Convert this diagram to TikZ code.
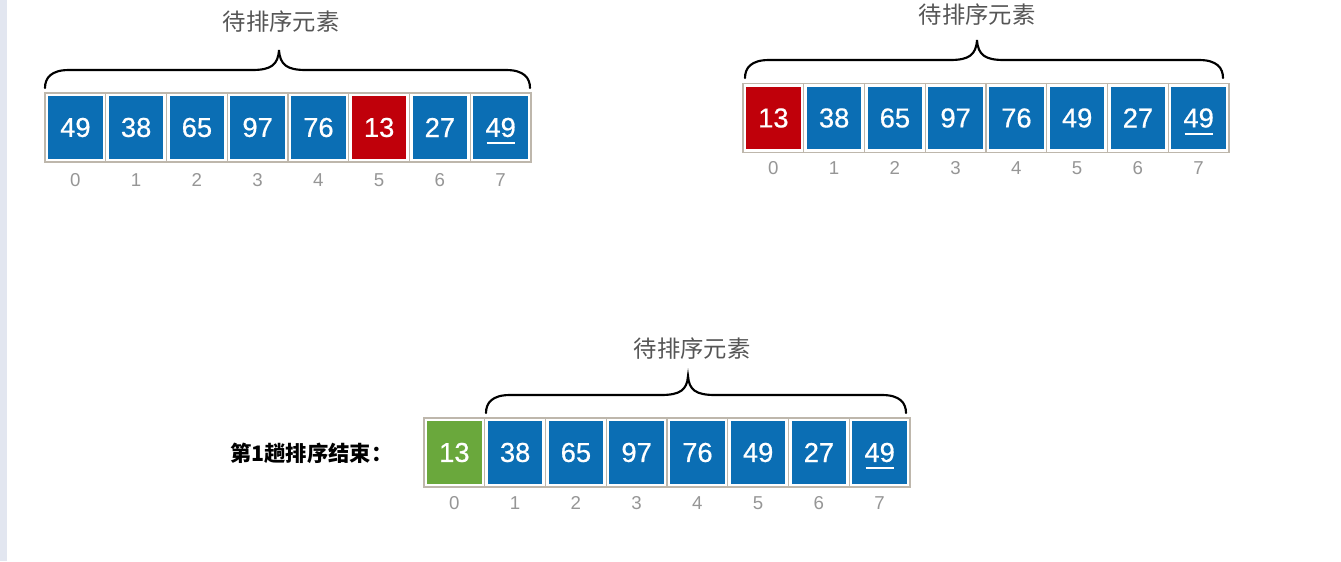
\documentclass[tikz,border=0pt]{standalone}
\usepackage{fontspec}
\setmainfont{Liberation Sans}
\newfontfamily\numfont[FakeBold=0.6]{Liberation Sans}
\newfontfamily\cjk{Noto Sans CJK SC}
\definecolor{cellblue}{RGB}{11,110,180}
\definecolor{cellred}{RGB}{192,0,10}
\definecolor{cellgreen}{RGB}{106,168,60}
\definecolor{framec}{RGB}{190,183,172}
\definecolor{idxc}{RGB}{150,150,150}
\definecolor{ttlc}{RGB}{85,85,85}
\definecolor{stripc}{RGB}{226,230,240}
\newcommand\drawsortbrace[6]{% x0, x1, xtip, yend, yh, ytip
  \draw[bracestyle] (#1,#4) .. controls (#1,#4-10) and (#1+6,#5) .. (#1+24,#5)
    -- (#3-27,#5) .. controls (#3-8,#5) and (#3-1,#5-5) .. (#3,#6)
    .. controls (#3+1,#5-5) and (#3+8,#5) .. (#3+27,#5)
    -- (#2-24,#5) .. controls (#2-6,#5) and (#2,#4-10) .. (#2,#4);}
\begin{document}
\begin{tikzpicture}[x=0.75pt,y=-0.75pt,
  cell/.style={draw=framec, line width=0.9pt, minimum width=45.56pt, minimum height=51.75pt,
    inner sep=0pt, outer sep=0pt, fill=white, text=white,
    font=\numfont\fontsize{20.5}{24}\selectfont,
    path picture={\fill[#1] ([shift={(2.4pt,-2.6pt)}]path picture bounding box.north west)
       rectangle ([shift={(-2.4pt,2.6pt)}]path picture bounding box.south east);}},
  idx/.style={text=idxc, font=\fontsize{14}{16}\selectfont, inner sep=0pt},
  ttl/.style={text=ttlc, font=\cjk\fontsize{17.5}{20}\selectfont, inner sep=0pt},
  lbl/.style={text=black, font=\cjk\bfseries\fontsize{16}{19}\selectfont, inner sep=0pt},
  bracestyle/.style={draw=black, line width=1.6pt, line cap=round},
  uline/.style={draw=white, line width=1.5pt}]
\useasboundingbox (0,0) rectangle (1341,561);
\fill[white] (0,0) rectangle (1341,561);
\fill[stripc] (0,0) rectangle (7,561);
% array 1
\foreach \v [count=\i from 0] in {49,38,65,97,76,13,27,49}{
  \ifnum\i=5 \def\cc{cellred}\else\def\cc{cellblue}\fi
  \node[cell=\cc] (a\i) at (75.4+60.75*\i,127.5) {\v};
  \node[idx] (ai\i) at (75.4+60.75*\i,180) {\i};
}
\draw[uline] ([shift={(-14,15.5)}]a7.center) -- ([shift={(14,15.5)}]a7.center);
\node[ttl] (t1) at (281,22) {待排序元素};
\drawsortbrace{45}{530}{279}{88}{70}{50}
% array 2
\foreach \v [count=\i from 0] in {13,38,65,97,76,49,27,49}{
  \ifnum\i=0 \def\cc{cellred}\else\def\cc{cellblue}\fi
  \node[cell=\cc] (b\i) at (773.4+60.75*\i,118) {\v};
  \node[idx] (bi\i) at (773.4+60.75*\i,168) {\i};
}
\draw[uline] ([shift={(-14,15.5)}]b7.center) -- ([shift={(14,15.5)}]b7.center);
\node[ttl] (t2) at (977,15) {待排序元素};
\drawsortbrace{745}{1223}{977}{78}{60}{40}
% array 3
\foreach \v [count=\i from 0] in {13,38,65,97,76,49,27,49}{
  \ifnum\i=0 \def\cc{cellgreen}\else\def\cc{cellblue}\fi
  \node[cell=\cc] (c\i) at (454.4+60.75*\i,452.5) {\v};
  \node[idx] (ci\i) at (454.4+60.75*\i,503) {\i};
}
\draw[uline] ([shift={(-14,15.5)}]c7.center) -- ([shift={(14,15.5)}]c7.center);
\node[ttl] (t3) at (692,349) {待排序元素};
\drawsortbrace{486}{906}{688}{413}{395}{376}
\node[lbl, anchor=west] (lab) at (230,453) {第1趟排序结束：};
\end{tikzpicture}
\end{document}
